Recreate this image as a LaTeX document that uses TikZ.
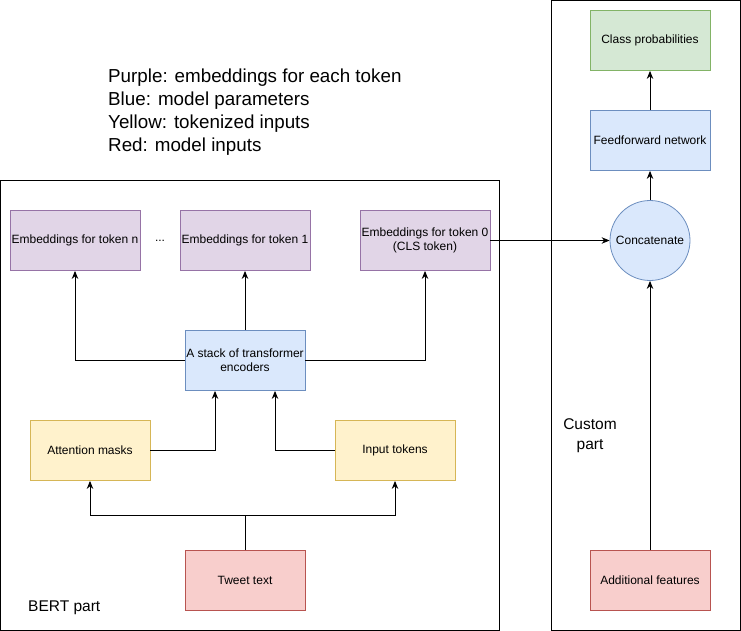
\documentclass[tikz,border=0pt]{standalone}
\usepackage{fontspec}
\setmainfont{Liberation Sans}
\usetikzlibrary{arrows.meta}
\definecolor{purpF}{HTML}{E1D5E7}\definecolor{purpD}{HTML}{9673A6}
\definecolor{blueF}{HTML}{DAE8FC}\definecolor{blueD}{HTML}{6C8EBF}
\definecolor{yelF}{HTML}{FFF2CC}\definecolor{yelD}{HTML}{D6B656}
\definecolor{redF}{HTML}{F8CECC}\definecolor{redD}{HTML}{B85450}
\definecolor{grnF}{HTML}{D5E8D4}\definecolor{grnD}{HTML}{82B366}
\tikzset{
  box/.style={rectangle, minimum width=#1, minimum height=60pt, inner sep=1pt, align=center, font=\fontsize{12}{14}\selectfont, line width=0.8pt},
  box/.default=120pt,
  purp/.style={box=130pt, fill=purpF, draw=purpD},
  blu/.style={box, fill=blueF, draw=blueD},
  yel/.style={box, fill=yelF, draw=yelD},
  rd/.style={box, fill=redF, draw=redD},
  grn/.style={box, fill=grnF, draw=grnD},
  conn/.style={line width=0.9pt, -{Stealth[length=8pt,width=6.5pt]}},
  plain/.style={line width=0.9pt},
  frame/.style={draw, line width=0.9pt},
}
\begin{document}
\begin{tikzpicture}[x=1pt,y=-1pt]
\useasboundingbox (0,0) rectangle (741,631);
% frames
\draw[frame] (0.5,180.5) rectangle (499.5,630);
\draw[frame] (551,0.5) rectangle (740,630);
% legend
\node[anchor=west, align=left, inner sep=0pt, font=\fontsize{18.8}{23}\selectfont] (legend) at (108,112.5) {Purple: embeddings for each token\\Blue: model parameters\\Yellow: tokenized inputs\\Red: model inputs};
% labels
\node[anchor=west, inner sep=0pt, font=\fontsize{15.5}{18}\selectfont] (bertlbl) at (28,607.5) {BERT part};
\node[align=center, inner sep=0pt, font=\fontsize{15.5}{20}\selectfont] (custlbl) at (590,436) {Custom\\part};
% BERT nodes
\node[purp] (tn) at (75,240.5) {Embeddings for token n};
\node[font=\fontsize{12}{14}\selectfont, inner sep=1pt] (dots) at (160,241) {...};
\node[purp] (t1) at (245,240.5) {Embeddings for token 1};
\node[purp] (t0) at (425,240.5) {Embeddings for token 0\\(CLS token)};
\node[blu] (tr) at (245,360.5) {A stack of transformer\\encoders};
\node[yel] (am) at (90,450.5) {Attention masks};
\node[yel] (it) at (395,450.5) {Input tokens};
\node[rd] (tw) at (245,580.5) {Tweet text};
% custom nodes
\node[grn] (cp) at (650,40.5) {Class probabilities};
\node[blu] (ff) at (650,140.5) {Feedforward network};
\node[circle, minimum size=80pt, inner sep=0pt, fill=blueF, draw=blueD, line width=0.8pt, font=\fontsize{12}{14}\selectfont] (cc) at (650,240.5) {Concatenate};
\node[rd] (af) at (650,580.5) {Additional features};
% connectors
\coordinate (split) at (245,515);
\draw[plain] (tw.north) -- (split);
\draw[conn] (split) -| (am.south);
\draw[conn] (split) -| (it.south);
\draw[conn] (am.east) -| ([xshift=-30pt]tr.south);
\draw[conn] (it.west) -| ([xshift=30pt]tr.south);
\draw[conn] (tr.west) -| (tn.south);
\draw[conn] (tr.north) -- (t1.south);
\draw[conn] (tr.east) -| (t0.south);
\draw[conn] (t0.east) -- (cc.west);
\draw[conn] (cc.north) -- (ff.south);
\draw[conn] (ff.north) -- (cp.south);
\draw[conn] (af.north) -- (cc.south);
\end{tikzpicture}
\end{document}
